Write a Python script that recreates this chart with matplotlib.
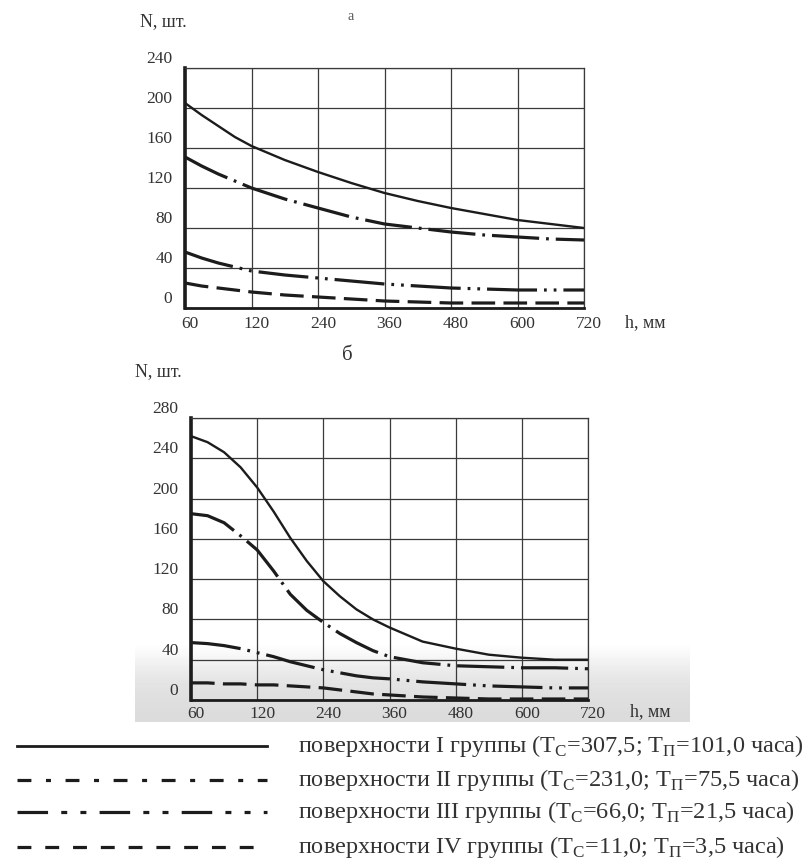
import matplotlib
matplotlib.use("Agg")
import matplotlib.pyplot as plt
from matplotlib.transforms import ScaledTranslation
from matplotlib.lines import Line2D

plt.rcParams["font.family"] = ["Liberation Serif", "DejaVu Serif"]
plt.rcParams["mathtext.fontset"] = "custom"
plt.rcParams["mathtext.rm"] = "Liberation Serif"
plt.rcParams["lines.scale_dashes"] = False

# h, mm - equally spaced categories on the axis
h_labels = ["60", "120", "240", "360", "480", "600", "720"]

# chart а (positions in category units)
pos_a = [0, 0.25, 0.5, 0.75, 1, 1.5, 2, 2.5, 3, 3.5, 4, 4.5, 5, 5.5, 6]
a_g1 = [205, 193, 182, 171, 162, 148, 136, 125, 115, 107, 100, 94, 88, 84, 80]
a_g2 = [151, 142, 134, 127, 120, 109, 100, 91, 84, 80, 76, 73, 71, 69, 68]
a_g3 = [56, 50, 45, 41, 37, 33, 30, 27, 24, 22, 20, 19, 18, 18, 18]
a_g4 = [25, 22, 20, 18, 16, 13, 11, 9, 7, 6, 5, 5, 5, 5, 5]

# chart б
pos_b = [0, 0.25, 0.5, 0.75, 1, 1.25, 1.5, 1.75, 2, 2.25, 2.5, 2.75, 3, 3.5, 4, 4.5, 5, 5.5, 6]
b_g1 = [262, 256, 246, 231, 211, 187, 161, 138, 118, 103, 90, 80, 72, 58, 51, 45, 42, 40, 40]
b_g2 = [185, 183, 176, 163, 149, 128, 105, 89, 77, 66, 57, 49, 43, 37, 34, 33, 32, 32, 31]
b_g3 = [57, 56, 54, 51, 47, 43, 38, 34, 30, 27, 24, 22, 21, 18, 16, 14, 13, 12, 12]
b_g4 = [17, 17, 16, 16, 15, 15, 14, 13, 12, 10, 8, 6, 5, 3, 2, 1, 1, 1, 1]

a_yticks = [0, 40, 80, 120, 160, 200, 240]
b_yticks = [0, 40, 80, 120, 160, 200, 240, 280]

legend_texts = [
    "поверхности I группы (T$_\\mathregular{С}$=307,5; T$_\\mathregular{П}$=101,0 часа)",
    "поверхности II группы (T$_\\mathregular{С}$=231,0; T$_\\mathregular{П}$=75,5 часа)",
    "поверхности III группы (T$_\\mathregular{С}$=66,0; T$_\\mathregular{П}$=21,5 часа)",
    "поверхности IV группы (T$_\\mathregular{С}$=11,0; T$_\\mathregular{П}$=3,5 часа)",
]

ink = "#1c1c1c"
plot_styles = [
    dict(ls="-", lw=1.7),
    dict(ls=(0, (34, 5, 2, 5)), lw=2.3),
    dict(ls=(0, (36, 5, 2, 5, 2, 5)), lw=2.3),
    dict(ls=(0, (17, 6)), lw=2.3),
]
legend_styles = [
    dict(ls="-", lw=2.0),
    dict(ls=(0, (10, 10.5, 3.6, 10.5)), lw=2.3),
    dict(ls=(0, (22, 9.5, 4.3, 9.5, 4.3, 9.5)), lw=2.3),
    dict(ls=(0, (10, 10)), lw=2.3),
]

fig = plt.figure(figsize=(8.1, 8.6), dpi=100)

# faint grey scan tint at the bottom of chart б
shade = [[1.0], [0.97], [0.93], [0.9], [0.88], [0.87], [0.86]]
bg = fig.add_axes([135 / 810, 1 - 722 / 860, 555 / 810, 85 / 860], zorder=-5)
bg.imshow(shade, aspect="auto", cmap="gray", vmin=0, vmax=1, interpolation="bilinear")
bg.axis("off")


def draw_chart(ax, xs, series, yticks, lab_pad):
    for ys, st in zip(series, plot_styles):
        ax.plot(xs, ys, color=ink, solid_capstyle="butt", dash_capstyle="butt", **st)
    ax.set_xlim(0, 6)
    ax.set_ylim(0, yticks[-1])
    ax.set_xticks(range(len(h_labels)))
    ax.set_xticklabels(h_labels)
    ax.set_yticks(yticks)
    ax.grid(True, color="#3a3a3a", lw=0.9)
    ax.set_facecolor("none")
    ax.tick_params(length=0, labelsize=12.5, labelcolor="#333333", pad=lab_pad)
    ax.tick_params(axis="y", pad=9)
    for side in ["top", "right"]:
        ax.spines[side].set_linewidth(0.9)
        ax.spines[side].set_color("#3a3a3a")
    ax.spines["left"].set_linewidth(2.6)
    ax.spines["bottom"].set_linewidth(2.0)
    ax.spines["left"].set_color(ink)
    ax.spines["bottom"].set_color(ink)
    up = ScaledTranslation(0, 0.11, fig.dpi_scale_trans)
    for lab in ax.get_yticklabels():
        lab.set_transform(lab.get_transform() + up)
    right = ScaledTranslation(0.05, 0, fig.dpi_scale_trans)
    for lab in ax.get_xticklabels():
        lab.set_transform(lab.get_transform() + right)


ax1 = fig.add_axes([185 / 810, 1 - 308 / 860, 399 / 810, 240 / 860])
draw_chart(ax1, pos_a, [a_g1, a_g2, a_g3, a_g4], a_yticks, 6)
ax2 = fig.add_axes([191 / 810, 1 - 700 / 860, 397 / 810, 282 / 860])
draw_chart(ax2, pos_b, [b_g1, b_g2, b_g3, b_g4], b_yticks, 4)

fig.text(163 / 810, 1 - 22 / 860, "N, шт.", ha="center", va="center", fontsize=13, color="#333333")
fig.text(351 / 810, 1 - 17 / 860, "а", ha="center", va="center", fontsize=10, color="#555555")
fig.text(625 / 810, 1 - 323 / 860, "h, мм", ha="left", va="center", fontsize=13, color="#333333")
fig.text(347 / 810, 1 - 355 / 860, "б", ha="center", va="center", fontsize=15, color="#333333")
fig.text(135 / 810, 1 - 372 / 860, "N, шт.", ha="left", va="center", fontsize=13, color="#333333")
fig.text(630 / 810, 1 - 712 / 860, "h, мм", ha="left", va="center", fontsize=13, color="#333333")

# legend drawn as sample lines plus text rows
row_y = [746, 780, 812, 847]
for yy, st, txt in zip(row_y, legend_styles, legend_texts):
    fig.add_artist(Line2D([17 / 810, 267 / 810], [1 - yy / 860, 1 - yy / 860],
                          transform=fig.transFigure, color=ink,
                          dash_capstyle="butt", **st))
    fig.text(298 / 810, 1 - yy / 860, txt, ha="left", va="center",
             fontsize=17.5, color="#333333")

fig.savefig("out.png", dpi=100)
